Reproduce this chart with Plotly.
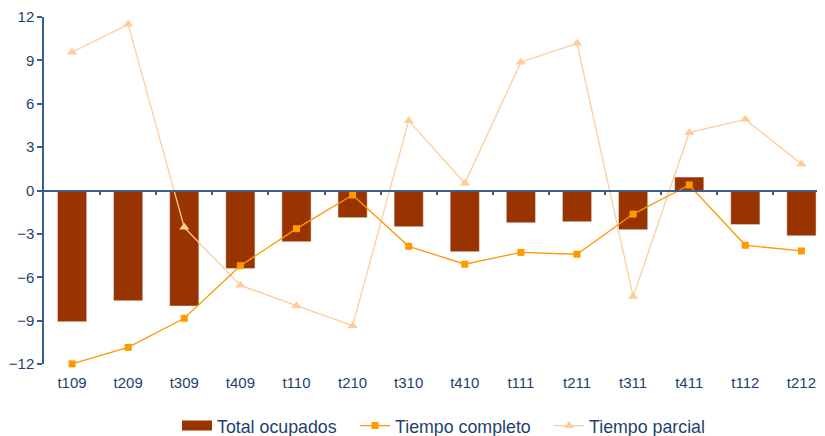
import plotly.graph_objects as go

categories = ["t109", "t209", "t309", "t409", "t110", "t210", "t310",
              "t410", "t111", "t211", "t311", "t411", "t112", "t212"]
total_ocupados = [-9.07, -7.62, -7.99, -5.40, -3.54, -1.88, -2.50,
                  -4.23, -2.23, -2.16, -2.71, 0.93, -2.36, -3.13]
tiempo_completo = [-11.99, -10.85, -8.84, -5.20, -2.64, -0.31, -3.86,
                   -5.10, -4.28, -4.41, -1.63, 0.38, -3.79, -4.18]
tiempo_parcial = [9.56, 11.49, -2.55, -6.56, -7.97, -9.35, 4.83,
                  0.50, 8.87, 10.18, -7.34, 4.00, 4.92, 1.83]
y_ticks = [-12, -9, -6, -3, 0, 3, 6, 9, 12]

idx = list(range(len(categories)))
boundaries = [i + 0.5 for i in idx[:-1]]

TEXT = "#1F3F6E"
AXIS = "#3A5F8A"
FONT = "Liberation Sans, Arial, sans-serif"

fig = go.Figure()
fig.add_trace(go.Bar(x=idx, y=total_ocupados, marker_color="#993300",
                     width=0.52, showlegend=False, hoverinfo="y"))
fig.add_trace(go.Scatter(x=[None], y=[None], mode="lines", name="Total ocupados",
                         line=dict(color="#993300", width=12), legend="legend"))
fig.add_trace(go.Scatter(x=idx, y=tiempo_parcial, mode="lines+markers",
                         name="Tiempo parcial", legend="legend3", cliponaxis=False,
                         line=dict(color="#FFCC99", width=1.3),
                         marker=dict(symbol="triangle-up", size=9, color="#FFCC99")))
fig.add_trace(go.Scatter(x=idx, y=tiempo_completo, mode="lines+markers",
                         name="Tiempo completo", legend="legend2", cliponaxis=False,
                         line=dict(color="#FF9900", width=1.3),
                         marker=dict(symbol="square", size=7, color="#FF9900")))
# invisible trace on the secondary x-axis carrying the zero-line ticks
fig.add_trace(go.Scatter(x=[None], y=[None], xaxis="x2", showlegend=False))

xr = [-0.5, 13.42]
leg_common = dict(orientation="h", xanchor="left", y=-62 / 347, yanchor="middle",
                  font=dict(size=17.8, color=TEXT), itemwidth=30,
                  bgcolor="rgba(0,0,0,0)")
fig.update_layout(
    width=817, height=428,
    margin=dict(l=36, r=0, t=9, b=72, autoexpand=False),
    paper_bgcolor="white", plot_bgcolor="white",
    font=dict(family=FONT, color=TEXT, size=15),
    xaxis=dict(range=xr, tickmode="array", tickvals=idx, ticktext=categories,
               showgrid=False, zeroline=False, showline=False,
               ticks="outside", ticklen=5, tickcolor="rgba(0,0,0,0)",
               tickfont=dict(size=15, color=TEXT)),
    xaxis2=dict(range=xr, overlaying="x", anchor="free", position=0.5,
                tickmode="array", tickvals=boundaries, showticklabels=False,
                showgrid=False, zeroline=False, showline=True,
                linecolor=AXIS, linewidth=1.5,
                ticks="outside", ticklen=4, tickcolor=AXIS, tickwidth=1.5),
    yaxis=dict(range=[-12, 12], tickmode="array", tickvals=y_ticks,
               showgrid=False, zeroline=False, showline=True,
               linecolor=AXIS, linewidth=1.5,
               ticks="outside", ticklen=5, tickcolor=AXIS, tickwidth=1.5,
               tickfont=dict(size=15, color=TEXT)),
    legend=dict(x=(177 - 44) / 781, **leg_common),
    legend2=dict(x=(355 - 44) / 781, **leg_common),
    legend3=dict(x=(549 - 44) / 781, **leg_common),
)

fig.write_html("out.html")
